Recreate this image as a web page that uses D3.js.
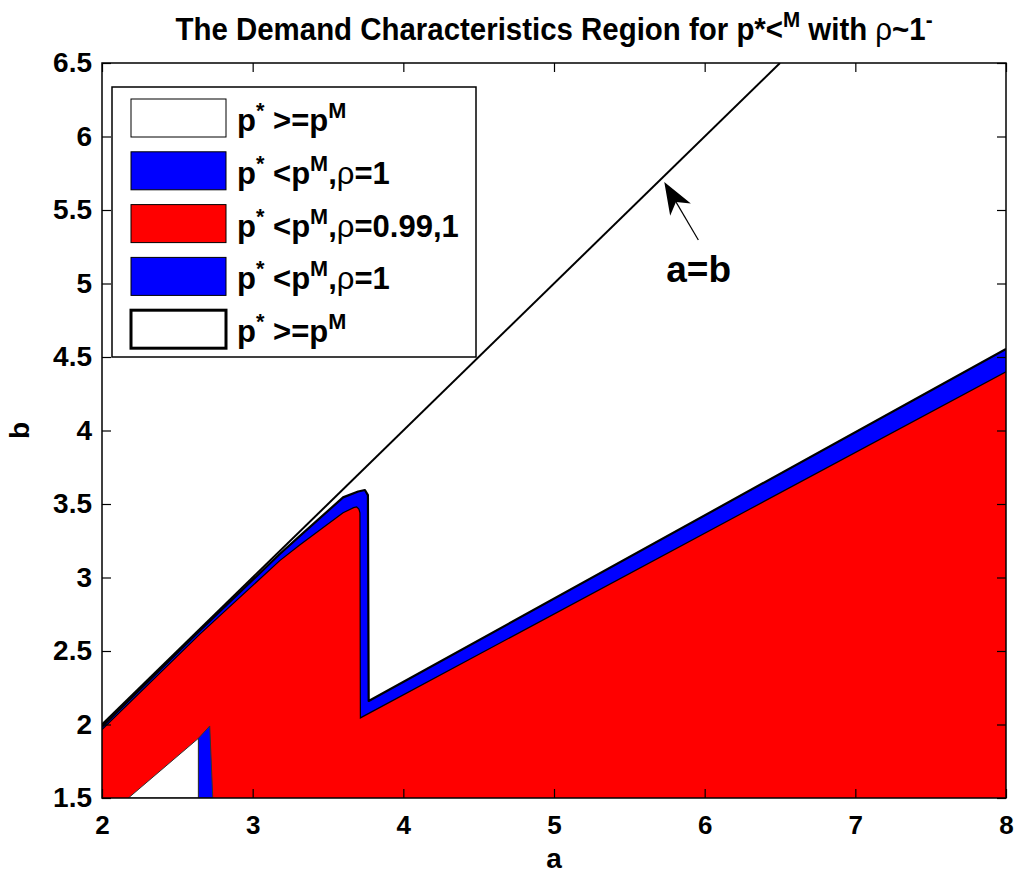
<!DOCTYPE html>
<html>
<head>
<meta charset="utf-8">
<script src="https://cdn.jsdelivr.net/npm/d3@7"></script>
<style>
  body { margin: 0; background: #fff; }
  text { font-family: "Liberation Sans", Arial, Helvetica, sans-serif; font-weight: bold; fill: #000; }
</style>
</head>
<body>
<div id="chart"></div>
<script>
  // axis ticks
  var xTicks = [2, 3, 4, 5, 6, 7, 8],
    yTicks = [1.5, 2, 2.5, 3, 3.5, 4, 4.5, 5, 5.5, 6, 6.5],
    yTickLabels = ["1.5", "2", "2.5", "3", "3.5", "4", "4.5", "5", "5.5", "6", "6.5"];

  // a=b line
  var diagA = [2, 6.5],
    diagB = [2, 6.5];

  // upper edge of the blue (rho=1) region
  var blueTopA = [2, 2.65, 3.18, 3.31, 3.6, 3.7, 3.745, 3.765, 3.77, 8],
    blueTopB = [1.985, 2.64, 3.16, 3.28, 3.545, 3.585, 3.595, 3.56, 2.16, 4.555];

  // upper edge of the red (rho=0.99,1) region
  var redTopA = [2, 2.65, 3.18, 3.31, 3.6, 3.67, 3.69, 3.705, 3.712, 3.715, 8],
    redTopB = [1.965, 2.615, 3.115, 3.22, 3.44, 3.475, 3.48, 3.465, 3.44, 2.045, 4.4];

  // white pocket and blue strip at the bottom left
  var pocketA = [2.175, 2.64, 2.64],
    pocketB = [1.5, 1.906, 1.5];
  var stripA = [2.64, 2.64, 2.715, 2.735],
    stripB = [1.5, 1.906, 1.99, 1.5];

  // legend
  var legendLabels = ["p^* >=p^M", "p^* <p^M,ρ=1", "p^* <p^M,ρ=0.99,1", "p^* <p^M,ρ=1", "p^* >=p^M"],
    legendFill = ["#ffffff", "#0000ff", "#ff0000", "#0000ff", "#ffffff"],
    legendStroke = [1, 1, 1, 1, 3];

  // annotation (data units)
  var arrowTip = [5.732, 5.69],
    arrowTail = [5.958, 5.296],
    noteAt = [5.96, 5.01];

  var W = 1016, H = 878;
  var pL = 102, pR = 1006, pT = 63, pB = 798;

  var x = d3.scaleLinear().domain([2, 8]).range([pL, pR]);
  var y = d3.scaleLinear().domain([1.5, 6.5]).range([pB, pT]);

  var svg = d3.select("#chart").append("svg").attr("width", W).attr("height", H);

  svg.append("clipPath").attr("id", "clip")
    .append("rect").attr("x", pL).attr("y", pT).attr("width", pR - pL).attr("height", pB - pT);

  var plot = svg.append("g").attr("clip-path", "url(#clip)");

  function pts(A, B) {
    return A.map(function (a, i) { return [x(a), y(B[i])]; });
  }
  var line = d3.line();

  // blue region: everything below its top edge
  var bluePts = pts(blueTopA, blueTopB).concat([[x(8), y(1.5)], [x(2), y(1.5)]]);
  plot.append("path").attr("d", line(bluePts) + "Z").attr("fill", "#0000ff");

  var redPts = pts(redTopA, redTopB).concat([[x(8), y(1.5)], [x(2), y(1.5)]]);
  plot.append("path").attr("d", line(redPts) + "Z").attr("fill", "#ff0000");

  plot.append("path").attr("d", line(pts(pocketA, pocketB)) + "Z")
    .attr("fill", "#fff").attr("stroke", "#333").attr("stroke-width", 1);
  plot.append("path").attr("d", line(pts(stripA, stripB)) + "Z")
    .attr("fill", "#0000ff").attr("stroke", "#333").attr("stroke-width", 1);

  // contour outlines
  plot.append("path").attr("d", line(pts(redTopA, redTopB)))
    .attr("fill", "none").attr("stroke", "#000").attr("stroke-width", 1.2);
  plot.append("path").attr("d", line(pts(blueTopA, blueTopB)))
    .attr("fill", "none").attr("stroke", "#000").attr("stroke-width", 2.2)
    .attr("stroke-linejoin", "round");

  plot.append("path").attr("d", line(pts(diagA, diagB)))
    .attr("fill", "none").attr("stroke", "#000").attr("stroke-width", 2);

  // axes, ticks inside on all four sides
  svg.append("g").attr("class", "xax").attr("transform", "translate(0," + pB + ")")
    .call(d3.axisBottom(x).tickValues(xTicks).tickSize(-9).tickPadding(18).tickFormat(d3.format("d")));
  svg.append("g").attr("class", "yax").attr("transform", "translate(" + pL + ",0)")
    .call(d3.axisLeft(y).tickValues(yTicks).tickSize(-9).tickPadding(10)
      .tickFormat(function (d, i) { return yTickLabels[i]; }));
  svg.append("g").attr("transform", "translate(0," + pT + ")")
    .call(d3.axisTop(x).tickValues(xTicks).tickSize(-9).tickFormat(""));
  svg.append("g").attr("transform", "translate(" + pR + ",0)")
    .call(d3.axisRight(y).tickValues(yTicks).tickSize(-9).tickFormat(""));

  svg.selectAll(".domain").remove();
  svg.selectAll(".tick line").attr("stroke", "#000").attr("stroke-width", 1.2);
  svg.selectAll(".tick text").attr("font-family", null).attr("fill", "#000");
  svg.selectAll(".xax .tick text").attr("font-size", 26);
  svg.selectAll(".yax .tick text").attr("font-size", 28);

  svg.append("rect").attr("x", pL).attr("y", pT).attr("width", pR - pL).attr("height", pB - pT)
    .attr("fill", "none").attr("stroke", "#000").attr("stroke-width", 1.5);

  // rich text: ^c makes c a superscript, rho is in plain weight
  function rich(t, s, size) {
    var up = false;
    for (var i = 0; i < s.length; i++) {
      var c = s[i];
      if (c === "^") {
        t.append("tspan").text(s[i + 1]).attr("font-size", size * 0.7).attr("dy", -size * 0.42);
        up = true;
        i++;
        continue;
      }
      var ts = t.append("tspan").text(c);
      if (up) { ts.attr("dy", size * 0.42); up = false; }
      if (c === "ρ") ts.attr("font-weight", "normal");
    }
  }

  // title
  var title = svg.append("text").attr("x", (pL + pR) / 2).attr("y", 40)
    .attr("text-anchor", "middle").attr("font-size", 32)
    .attr("textLength", 757).attr("lengthAdjust", "spacingAndGlyphs");
  rich(title, "The Demand Characteristics Region for p*<^M with ρ~1^-", 32);

  // axis labels
  svg.append("text").attr("x", (pL + pR) / 2).attr("y", 868)
    .attr("text-anchor", "middle").attr("font-size", 28).text("a");
  svg.append("text").attr("transform", "translate(29," + (pT + pB) / 2 + ") rotate(-90)")
    .attr("text-anchor", "middle").attr("font-size", 28).text("b");

  // legend
  var lg = svg.append("g");
  lg.append("rect").attr("x", 112).attr("y", 87).attr("width", 364).attr("height", 270)
    .attr("fill", "#fff").attr("stroke", "#000").attr("stroke-width", 1.5);
  legendLabels.forEach(function (lab, i) {
    var cy = 118 + i * 52.8;
    lg.append("rect").attr("x", 131).attr("y", cy - 19).attr("width", 95).attr("height", 38)
      .attr("fill", legendFill[i]).attr("stroke", "#000").attr("stroke-width", legendStroke[i]);
    var t = lg.append("text").attr("x", 237).attr("y", cy + 13).attr("font-size", 31);
    rich(t, lab, 31);
  });

  // a=b annotation
  var tip = [x(arrowTip[0]), y(arrowTip[1])], tail = [x(arrowTail[0]), y(arrowTail[1])];
  var dx = tip[0] - tail[0], dy = tip[1] - tail[1], len = Math.sqrt(dx * dx + dy * dy);
  var ux = dx / len, uy = dy / len, nx = -uy, ny = ux;
  var hl = 32, hw = 12, back = 9;
  svg.append("line").attr("x1", tail[0]).attr("y1", tail[1])
    .attr("x2", tip[0] - ux * (hl - back)).attr("y2", tip[1] - uy * (hl - back))
    .attr("stroke", "#000").attr("stroke-width", 1.2);
  var head = [
    tip,
    [tip[0] - ux * hl + nx * hw, tip[1] - uy * hl + ny * hw],
    [tip[0] - ux * (hl - back), tip[1] - uy * (hl - back)],
    [tip[0] - ux * hl - nx * hw, tip[1] - uy * hl - ny * hw]
  ];
  svg.append("path").attr("d", line(head) + "Z").attr("fill", "#000");
  svg.append("text").attr("x", x(noteAt[0])).attr("y", y(noteAt[1]))
    .attr("text-anchor", "middle").attr("font-size", 37).text("a=b");
</script>
</body>
</html>
